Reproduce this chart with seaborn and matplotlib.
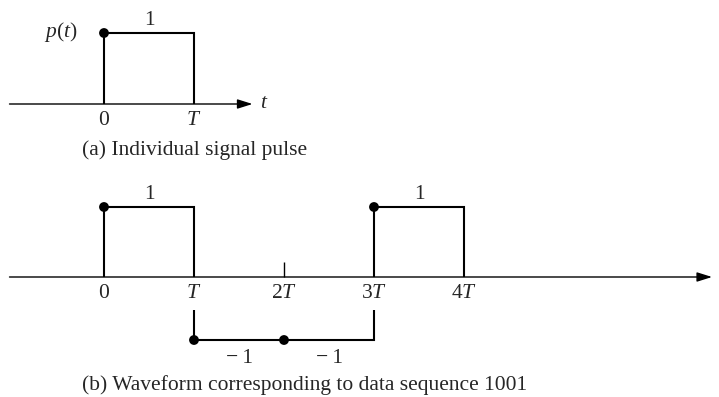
import numpy as np
import matplotlib
matplotlib.use("Agg")
import matplotlib.pyplot as plt
import seaborn as sns

# Time is measured in units of the pulse width T.
single_amps = [1]                  # one rectangular pulse p(t)
seq_bits = [1, 0, 0, 1]            # data sequence
seq_amps = [1, -1, -1, 1]          # polar levels for the bits
top_ticks = [0, 1]
top_tick_labels = ["0", "$T$"]
bot_ticks = [0, 1, 2, 3, 4]
bot_tick_labels = ["0", "$T$", "$2T$", "$3T$", "$4T$"]
caption_a = "(a) Individual signal pulse"
caption_b = "(b) Waveform corresponding to data sequence " + "".join(map(str, seq_bits))

sns.set_theme(style="white")
plt.rcParams.update({
    "font.family": ["Liberation Serif", "DejaVu Serif"],
    "mathtext.fontset": "custom",
    "mathtext.rm": "Liberation Serif",
    "mathtext.it": "Liberation Serif:italic",
    "mathtext.bf": "Liberation Serif:bold",
})

W, H, DPI = 719, 397, 100
PX = 72 / DPI          # points per pixel
FS = 15.5
LW_WAVE = 1.5
LW_AXIS = 1.0
AXIS_START = -1.05

fig = plt.figure(figsize=(W / DPI, H / DPI), dpi=DPI)
fig.patch.set_facecolor("white")


def make_axes(x0_px, unit_px, y0_px, up_px, down_px):
    """Full-figure transparent axes: t=0 at x0_px, level 0 at y0_px."""
    ax = fig.add_axes([0, 0, 1, 1])
    ax.set_facecolor("none")
    ax.axis("off")
    ratio = down_px / up_px
    fwd = lambda y: np.where(np.asarray(y) < 0, ratio * np.asarray(y), y)
    inv = lambda v: np.where(np.asarray(v) < 0, np.asarray(v) / ratio, v)
    ax.set_yscale("function", functions=(fwd, inv))
    ax.set_xlim(-x0_px / unit_px, (W - x0_px) / unit_px)
    ax.set_ylim(float(inv(-(H - y0_px) / up_px)), y0_px / up_px)
    return ax, up_px


def draw_waveform(ax, up_px, amps, ticks, tick_labels, axis_end):
    amps = np.asarray(amps, dtype=float)
    n = len(amps)
    starts = np.arange(n, dtype=float)
    x = np.r_[starts[0], starts, starts[-1] + 1, starts[-1] + 1]
    y = np.r_[0.0, amps, 0.0, 0.0]
    sns.lineplot(x=x, y=y, ax=ax, drawstyle="steps-post", sort=False,
                 estimator=None, color="black", lw=LW_WAVE, zorder=2,
                 solid_joinstyle="miter", legend=False)
    sns.scatterplot(x=starts, y=amps, ax=ax, s=50, color="black",
                    edgecolor="none", zorder=5, legend=False)

    # time axis with arrow head
    ax.annotate("", xy=(axis_end, 0), xytext=(AXIS_START, 0),
                arrowprops=dict(arrowstyle="-|>,head_length=0.7,head_width=0.22",
                                color="black", lw=LW_AXIS, mutation_scale=13,
                                shrinkA=0, shrinkB=0),
                zorder=4)

    # small tick marks where the waveform has no edge
    edges = {0.0, float(n)}
    for i in range(1, n):
        if amps[i] != amps[i - 1]:
            edges.add(float(i))
    plain = [t for t in ticks if float(t) not in edges]
    if plain:
        ax.vlines(plain, 0, 15 / up_px, color="black", lw=LW_AXIS, zorder=4)

    # tick labels (white box breaks the waveform behind them)
    for t, lab in zip(ticks, tick_labels):
        ax.annotate(lab, xy=(t, 0), xytext=(0, -21 * PX),
                    textcoords="offset points", ha="center", va="baseline",
                    fontsize=FS, zorder=3,
                    bbox=dict(boxstyle="square,pad=0.33", fc="white", ec="none"))

    # level labels over / under each pulse
    for i, a in enumerate(amps):
        txt = ("\u2212\u2009" if a < 0 else "") + f"{abs(a):g}"
        dy = 8 if a > 0 else -23
        ax.annotate(txt, xy=(i + 0.5, a), xytext=(0, dy * PX),
                    textcoords="offset points", ha="center", va="baseline",
                    fontsize=FS, zorder=3)


# (a) single pulse
ax_a, up_a = make_axes(104, 90, 104, 71, 71)
draw_waveform(ax_a, up_a, single_amps, top_ticks, top_tick_labels, axis_end=1.65)
ax_a.annotate("$p(t)$", xy=(0, single_amps[0]), xytext=(-27 * PX, -4 * PX),
              textcoords="offset points", ha="right", va="baseline", fontsize=FS)
ax_a.annotate("$t$", xy=(1.65, 0), xytext=(7 * PX, -4 * PX),
              textcoords="offset points", ha="left", va="baseline", fontsize=FS)

# (b) waveform for the data sequence
ax_b, up_b = make_axes(104, 90, 277, 70, 63)
draw_waveform(ax_b, up_b, seq_amps, bot_ticks, bot_tick_labels, axis_end=6.756)

fig.text(82 / W, 1 - 155 / H, caption_a, ha="left", va="baseline", fontsize=FS)
fig.text(82 / W, 1 - 390 / H, caption_b, ha="left", va="baseline", fontsize=FS)

fig.savefig("out.png", dpi=DPI, facecolor="white")
